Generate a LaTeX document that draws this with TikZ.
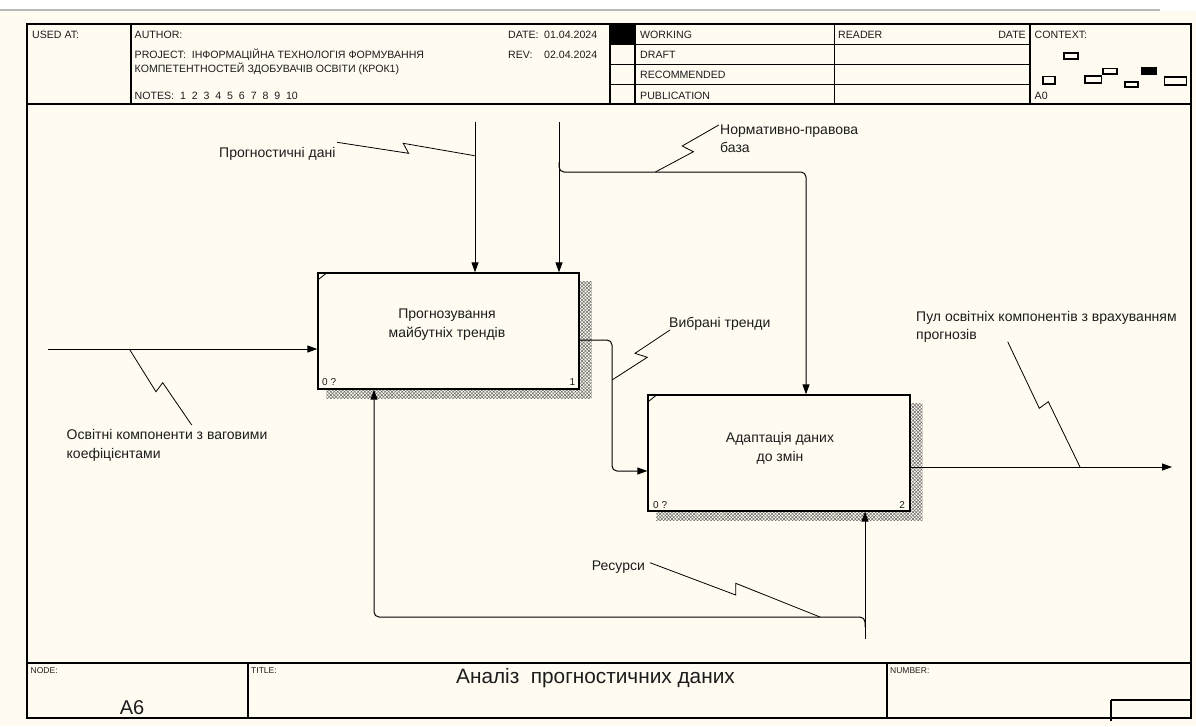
\documentclass[tikz,border=0pt]{standalone}
\usepackage{fontspec}
\setmainfont{Liberation Sans}
\usetikzlibrary{arrows.meta,patterns.meta,calc}
\definecolor{paper}{HTML}{FFFBF0}
\definecolor{ink}{HTML}{1C1C1C}
\definecolor{topline}{HTML}{B8B8B8}
\begin{document}
\begin{tikzpicture}[x=1pt,y=-1pt,
  rulew/.style={draw=black,line width=1.2pt},
  hdr/.style={font=\fontsize{10.6}{12}\selectfont,text=ink,inner sep=0pt,anchor=base west},
  foot/.style={font=\fontsize{8.5}{10}\selectfont,text=ink,inner sep=0pt,anchor=base west},
  lbl/.style={font=\fontsize{14}{18.5}\selectfont,text=ink,inner sep=0pt,anchor=north west,align=left},
  boxtext/.style={font=\fontsize{14}{19}\selectfont,text=ink,inner sep=0pt,anchor=north,align=center},
  fnbox/.style={draw=black,line width=1.3pt,fill=paper,inner sep=0pt},
  tag/.style={font=\fontsize{10}{12}\selectfont,text=ink,inner sep=0pt},
  arr/.style={draw=black,line width=1pt,-{Triangle[length=10pt,width=7pt]}},
  squig/.style={draw=black,line width=0.8pt},
  hatch/.style={pattern={Lines[angle=45,distance=2.4pt,line width=0.5pt]},pattern color=black!60,
    postaction={pattern={Lines[angle=-45,distance=2.4pt,line width=0.5pt]},pattern color=black!60}},
  ctx/.style={draw=black,line width=1.1pt,fill=paper}
]
\useasboundingbox (0,0) rectangle (1196,726);
% page
\fill[white] (0,0) rectangle (1196,726);
\fill[paper] (0,11) rectangle (1196,726);
\draw[topline,line width=2pt] (0,10) -- (1160,10);

% outer frame, header and footer rules
\draw[rulew] (27,24) rectangle (1191,718);
\draw[rulew] (27,104) -- (1191,104);
\draw[rulew] (27,663) -- (1191,663);
\foreach \xx in {131,610,635,834.5,1030} \draw[rulew] (\xx,24) -- (\xx,104);
\foreach \yy in {44.7,64.7,84.7} \draw[rulew] (610,\yy) -- (1030,\yy);
\fill[black] (610,24) rectangle (635,44.7);
\draw[rulew] (248,663) -- (248,718);
\draw[rulew] (887,663) -- (887,718);
\draw[rulew] (1111,700) -- (1191,700);
\draw[rulew] (1111,700) -- (1111,721);

% header texts
\node[hdr] (usedat) at (32,38.5) {USED AT:};
\node[hdr] (author) at (134.5,38.5) {AUTHOR:};
\node[hdr] (project) at (134.5,58) {PROJECT:\ \ ІНФОРМАЦІЙНА ТЕХНОЛОГІЯ ФОРМУВАННЯ};
\node[hdr] (project2) at (134.5,72.5) {КОМПЕТЕНТНОСТЕЙ ЗДОБУВАЧІВ ОСВІТИ (КРОК1)};
\node[hdr] (notes) at (134.5,99) {NOTES:\ \ 1\ \ 2\ \ 3\ \ 4\ \ 5\ \ 6\ \ 7\ \ 8\ \ 9\ \ 10};
\node[hdr] (datek) at (508,38.5) {DATE:};
\node[hdr] (datev) at (544,38.5) {01.04.2024};
\node[hdr] (revk) at (508,58) {REV:};
\node[hdr] (revv) at (544,58) {02.04.2024};
\node[hdr] (working) at (640,38.5) {WORKING};
\node[hdr] (draft) at (640,58.5) {DRAFT};
\node[hdr] (recom) at (640,78.5) {RECOMMENDED};
\node[hdr] (publ) at (640,99) {PUBLICATION};
\node[hdr] (reader) at (838,38.5) {READER};
\node[hdr,anchor=base east] (rdate) at (1026,38.5) {DATE};
\node[hdr] (context) at (1034.5,38.5) {CONTEXT:};
\node[hdr] (azero) at (1034.5,99) {A0};

% context thumbnails
\draw[ctx] (1064,53) rectangle (1078,59);
\draw[ctx] (1103,68.5) rectangle (1117,74);
\fill[black] (1141,67) rectangle (1157,74.5);
\draw[ctx] (1043,76.5) rectangle (1055,84);
\draw[ctx] (1085,76) rectangle (1101.5,83);
\draw[ctx] (1125,82) rectangle (1138,87);
\draw[ctx] (1164.5,77) rectangle (1186.5,85);

% footer texts
\node[foot] (nodek) at (30.5,673.5) {NODE:};
\node[foot] (titlek) at (251,673.5) {TITLE:};
\node[foot] (numk) at (890,673.5) {NUMBER:};
\node[font=\fontsize{20}{24}\selectfont,text=ink,inner sep=0pt,anchor=base] (nodev) at (132,714) {A6};
\node[font=\fontsize{20.8}{24}\selectfont,text=ink,inner sep=0pt,anchor=base] (titlev) at (595.5,683) {Аналіз\ \ прогностичних даних};

% activity boxes
\node[fnbox,minimum width=261pt,minimum height=116pt] (b1) at (448.5,331) {};
\node[fnbox,minimum width=262pt,minimum height=116pt] (b2) at (779,453) {};
\foreach \b in {b1,b2}{
  \fill[hatch] ($(\b.north east)+(0.7,9)$) rectangle ($(\b.south east)+(12,9)$);
  \fill[hatch] ($(\b.south west)+(9,0.7)$) rectangle ($(\b.south east)+(0.7,9)$);
  \draw[line width=0.8pt] ($(\b.north west)+(0,8)$) -- ($(\b.north west)+(10,0)$);
}
\node[boxtext] (b1t) at (447,308.5) {Прогнозування\\майбутніх трендів};
\node[boxtext] (b2t) at (780,432) {Адаптація даних\\до змін};
\node[tag,anchor=base west] (b1n) at (322,385.5) {0 ?};
\node[tag,anchor=base east] (b1i) at (575.5,385.5) {1};
\node[tag,anchor=base west] (b2n) at (653,508) {0 ?};
\node[tag,anchor=base east] (b2i) at (905,508) {2};

% arrow end points
\coordinate (inA) at (48,349);
\coordinate (ctlP) at (475,122);
\coordinate (ctlN) at (559,122);
\coordinate (ctlNbr) at (559,162);
\coordinate (ctlNc) at (806,172);
\coordinate (outB) at (1172,467);
\coordinate (mecR) at (865,639);
\coordinate (mecRbr) at (865,627);
\coordinate (mecRc) at (374,617);

% connectors
\draw[arr] (inA) -- (inA -| b1.west);
\draw[arr] (ctlP) -- (ctlP |- b1.north);
\draw[arr] (ctlN) -- (ctlN |- b1.north);
\draw[arr,rounded corners=5pt] (ctlNbr) |- (ctlNc) -- (ctlNc |- b2.north);
\draw[arr,rounded corners=5pt] (b1.east |- 0,340) -- (612,340) -- (612,471) -- (b2.west |- 0,471);
\draw[arr] (b2.east |- outB) -- (outB);
\draw[arr] (mecR) -- (mecR |- b2.south);
\draw[arr,rounded corners=5pt] (mecRbr) |- (mecRc) -- (mecRc |- b1.south);

% labels with their squiggles
\node[lbl] (lP) at (219,147.5) {Прогностичні дані};
\draw[squig] (337,142.3) -- (408.6,153.3) -- (403.2,143.3) -- (474.6,155.7);
\node[lbl] (lN) at (720,124.5) {Нормативно-правова\\база};
\draw[squig] (718.8,125) -- (682.2,146) -- (693.4,151.7) -- (655.4,172);
\node[lbl] (lV) at (669,317) {Вибрані тренди};
\draw[squig] (670,330) -- (635,353.3) -- (647.3,357.3) -- (612,380);
\node[lbl] (lO) at (66.5,429.5) {Освітні компоненти з ваговими\\коефіцієнтами};
\draw[squig] (129.3,349) -- (156,391.7) -- (162.7,382.7) -- (191.7,425);
\node[lbl] (lU) at (916,311) {Пул освітніх компонентів з врахуванням\\прогнозів};
\draw[squig] (1007.7,341.7) -- (1039.3,408.3) -- (1048.3,401.7) -- (1080,467);
\node[lbl] (lR) at (591.7,561) {Ресурси};
\draw[squig] (650,562.7) -- (735.7,595) -- (735.7,583.3) -- (820,617);
\end{tikzpicture}
\end{document}
